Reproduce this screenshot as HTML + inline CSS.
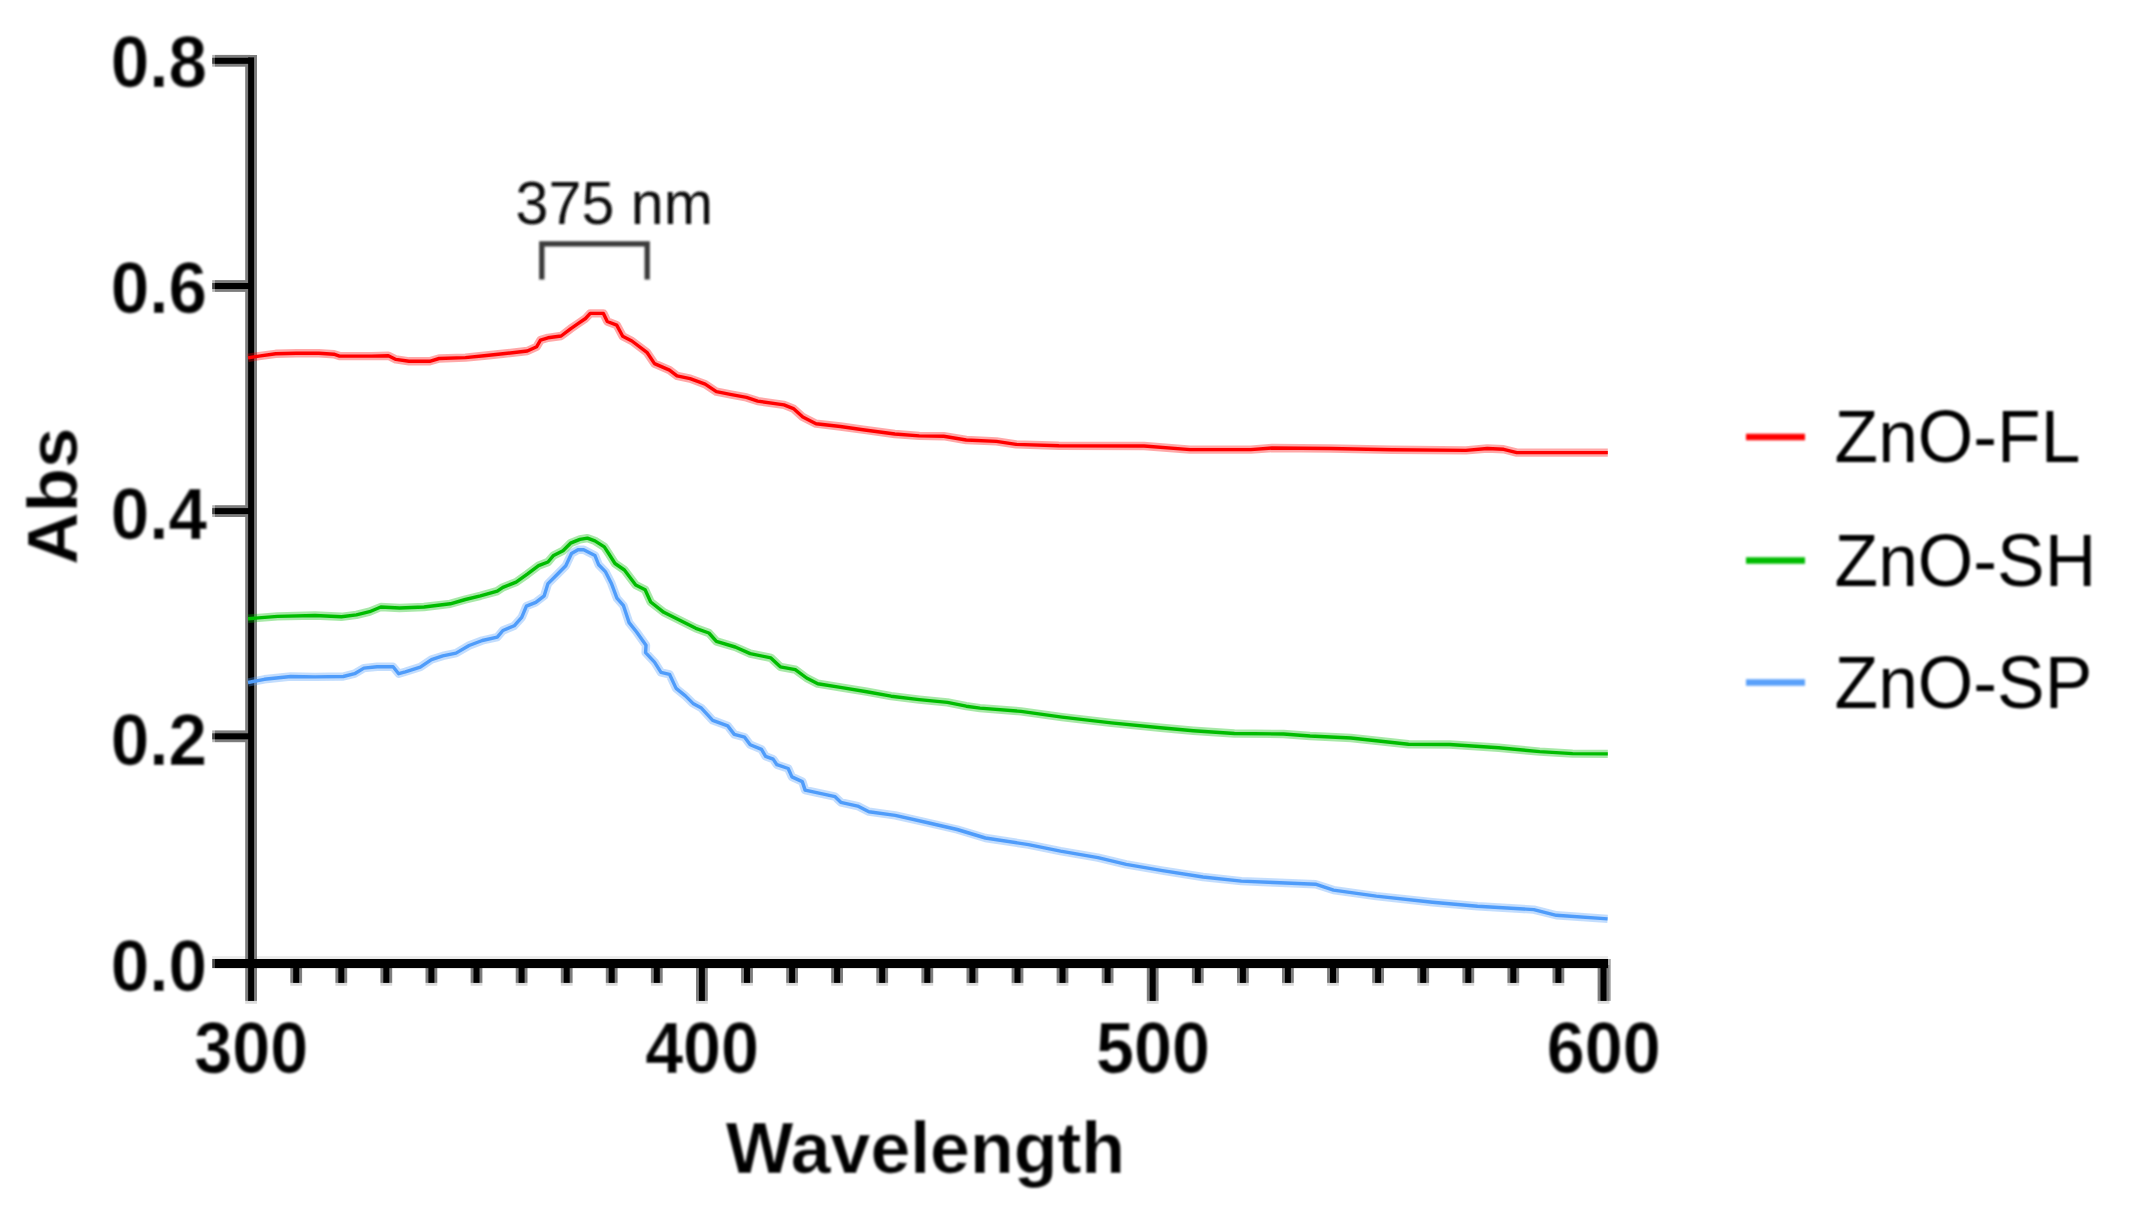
<!DOCTYPE html>
<html lang="en">
<head>
<meta charset="utf-8">
<title>ZnO absorbance</title>
<style>
html,body{margin:0;padding:0;background:#fff;}
body{width:2133px;height:1214px;overflow:hidden;}
svg{display:block;}
text{font-family:"Liberation Sans",Arial,Helvetica,sans-serif;fill:#000;}
.b{font-weight:bold;font-size:72.5px;}
.r{font-weight:normal;font-size:74px;}
.ann{font-weight:normal;font-size:62px;fill:#111;}
.ax{stroke:#000;stroke-width:10;fill:none;stroke-linecap:butt;}
.cv{fill:none;stroke-linejoin:round;stroke-linecap:butt;}
</style>
</head>
<body>
<svg width="2133" height="1214" viewBox="0 0 2133 1214">
<defs><filter id="soft" x="-2%" y="-2%" width="104%" height="104%"><feGaussianBlur stdDeviation="1.1"/></filter><filter id="soft2" x="-2%" y="-2%" width="104%" height="104%"><feGaussianBlur stdDeviation="0.55"/></filter><filter id="thin" x="-2%" y="-2%" width="104%" height="104%"><feMorphology in="SourceGraphic" operator="erode" radius="1" result="e"/><feComposite in="e" in2="SourceGraphic" operator="arithmetic" k1="0" k2="0.3" k3="0.7" k4="0" result="m"/><feGaussianBlur in="m" stdDeviation="0.9"/></filter></defs>
<rect x="0" y="0" width="2133" height="1214" fill="#ffffff"/>
<g filter="url(#soft2)">
<rect x="290.3" y="982.9" width="11.8" height="2.9" fill="#dcdcdc"/>
<rect x="335.4" y="982.9" width="11.8" height="2.9" fill="#dcdcdc"/>
<rect x="380.4" y="982.9" width="11.8" height="2.9" fill="#dcdcdc"/>
<rect x="425.5" y="982.9" width="11.8" height="2.9" fill="#dcdcdc"/>
<rect x="470.6" y="982.9" width="11.8" height="2.9" fill="#dcdcdc"/>
<rect x="515.7" y="982.9" width="11.8" height="2.9" fill="#dcdcdc"/>
<rect x="560.8" y="982.9" width="11.8" height="2.9" fill="#dcdcdc"/>
<rect x="605.8" y="982.9" width="11.8" height="2.9" fill="#dcdcdc"/>
<rect x="650.9" y="982.9" width="11.8" height="2.9" fill="#dcdcdc"/>
<rect x="696.0" y="1000.9" width="11.8" height="2.9" fill="#dcdcdc"/>
<rect x="741.1" y="982.9" width="11.8" height="2.9" fill="#dcdcdc"/>
<rect x="786.2" y="982.9" width="11.8" height="2.9" fill="#dcdcdc"/>
<rect x="831.2" y="982.9" width="11.8" height="2.9" fill="#dcdcdc"/>
<rect x="876.3" y="982.9" width="11.8" height="2.9" fill="#dcdcdc"/>
<rect x="921.4" y="982.9" width="11.8" height="2.9" fill="#dcdcdc"/>
<rect x="966.5" y="982.9" width="11.8" height="2.9" fill="#dcdcdc"/>
<rect x="1011.6" y="982.9" width="11.8" height="2.9" fill="#dcdcdc"/>
<rect x="1056.6" y="982.9" width="11.8" height="2.9" fill="#dcdcdc"/>
<rect x="1101.7" y="982.9" width="11.8" height="2.9" fill="#dcdcdc"/>
<rect x="1146.8" y="1000.9" width="11.8" height="2.9" fill="#dcdcdc"/>
<rect x="1191.9" y="982.9" width="11.8" height="2.9" fill="#dcdcdc"/>
<rect x="1237.0" y="982.9" width="11.8" height="2.9" fill="#dcdcdc"/>
<rect x="1282.0" y="982.9" width="11.8" height="2.9" fill="#dcdcdc"/>
<rect x="1327.1" y="982.9" width="11.8" height="2.9" fill="#dcdcdc"/>
<rect x="1372.2" y="982.9" width="11.8" height="2.9" fill="#dcdcdc"/>
<rect x="1417.3" y="982.9" width="11.8" height="2.9" fill="#dcdcdc"/>
<rect x="1462.4" y="982.9" width="11.8" height="2.9" fill="#dcdcdc"/>
<rect x="1507.4" y="982.9" width="11.8" height="2.9" fill="#dcdcdc"/>
<rect x="1552.5" y="982.9" width="11.8" height="2.9" fill="#dcdcdc"/>
<rect x="1597.6" y="1000.9" width="11.8" height="2.9" fill="#dcdcdc"/>
<rect x="245.2" y="1000.9" width="11.8" height="2.9" fill="#dcdcdc"/>
<rect x="212.2" y="956.1" width="1395.8" height="2.9" fill="#ebebeb"/>
<rect x="1608.0" y="959.0" width="2.8" height="41.9" fill="#aaaaaa"/>
<rect x="215.0" y="730.4" width="35.0" height="11.8" fill="#7d7d7d"/>
<rect x="212.2" y="730.4" width="2.8" height="11.8" fill="#b4b4b4"/>
<rect x="215.0" y="505.2" width="35.0" height="11.8" fill="#7d7d7d"/>
<rect x="212.2" y="505.2" width="2.8" height="11.8" fill="#b4b4b4"/>
<rect x="215.0" y="280.1" width="35.0" height="11.8" fill="#7d7d7d"/>
<rect x="212.2" y="280.1" width="2.8" height="11.8" fill="#b4b4b4"/>
<rect x="215.0" y="54.9" width="35.0" height="11.8" fill="#7d7d7d"/>
<rect x="212.2" y="54.9" width="2.8" height="11.8" fill="#b4b4b4"/>
<rect x="290.3" y="965.0" width="11.8" height="17.9" fill="#7d7d7d"/>
<rect x="335.4" y="965.0" width="11.8" height="17.9" fill="#7d7d7d"/>
<rect x="380.4" y="965.0" width="11.8" height="17.9" fill="#7d7d7d"/>
<rect x="425.5" y="965.0" width="11.8" height="17.9" fill="#7d7d7d"/>
<rect x="470.6" y="965.0" width="11.8" height="17.9" fill="#7d7d7d"/>
<rect x="515.7" y="965.0" width="11.8" height="17.9" fill="#7d7d7d"/>
<rect x="560.8" y="965.0" width="11.8" height="17.9" fill="#7d7d7d"/>
<rect x="605.8" y="965.0" width="11.8" height="17.9" fill="#7d7d7d"/>
<rect x="650.9" y="965.0" width="11.8" height="17.9" fill="#7d7d7d"/>
<rect x="696.0" y="965.0" width="11.8" height="35.9" fill="#7d7d7d"/>
<rect x="741.1" y="965.0" width="11.8" height="17.9" fill="#7d7d7d"/>
<rect x="786.2" y="965.0" width="11.8" height="17.9" fill="#7d7d7d"/>
<rect x="831.2" y="965.0" width="11.8" height="17.9" fill="#7d7d7d"/>
<rect x="876.3" y="965.0" width="11.8" height="17.9" fill="#7d7d7d"/>
<rect x="921.4" y="965.0" width="11.8" height="17.9" fill="#7d7d7d"/>
<rect x="966.5" y="965.0" width="11.8" height="17.9" fill="#7d7d7d"/>
<rect x="1011.6" y="965.0" width="11.8" height="17.9" fill="#7d7d7d"/>
<rect x="1056.6" y="965.0" width="11.8" height="17.9" fill="#7d7d7d"/>
<rect x="1101.7" y="965.0" width="11.8" height="17.9" fill="#7d7d7d"/>
<rect x="1146.8" y="965.0" width="11.8" height="35.9" fill="#7d7d7d"/>
<rect x="1191.9" y="965.0" width="11.8" height="17.9" fill="#7d7d7d"/>
<rect x="1237.0" y="965.0" width="11.8" height="17.9" fill="#7d7d7d"/>
<rect x="1282.0" y="965.0" width="11.8" height="17.9" fill="#7d7d7d"/>
<rect x="1327.1" y="965.0" width="11.8" height="17.9" fill="#7d7d7d"/>
<rect x="1372.2" y="965.0" width="11.8" height="17.9" fill="#7d7d7d"/>
<rect x="1417.3" y="965.0" width="11.8" height="17.9" fill="#7d7d7d"/>
<rect x="1462.4" y="965.0" width="11.8" height="17.9" fill="#7d7d7d"/>
<rect x="1507.4" y="965.0" width="11.8" height="17.9" fill="#7d7d7d"/>
<rect x="1552.5" y="965.0" width="11.8" height="17.9" fill="#7d7d7d"/>
<rect x="1597.6" y="965.0" width="11.8" height="35.9" fill="#7d7d7d"/>
<rect x="245.2" y="55.0" width="11.8" height="945.9" fill="#7d7d7d"/>
<rect x="215.0" y="733.3" width="35.0" height="6.0" fill="#000"/>
<rect x="212.2" y="733.3" width="2.8" height="6.0" fill="#484848"/>
<rect x="215.0" y="508.1" width="35.0" height="6.0" fill="#000"/>
<rect x="212.2" y="508.1" width="2.8" height="6.0" fill="#484848"/>
<rect x="215.0" y="283.0" width="35.0" height="6.0" fill="#000"/>
<rect x="212.2" y="283.0" width="2.8" height="6.0" fill="#484848"/>
<rect x="215.0" y="57.8" width="35.0" height="6.0" fill="#000"/>
<rect x="212.2" y="57.8" width="2.8" height="6.0" fill="#484848"/>
<rect x="293.2" y="965.0" width="6.0" height="17.9" fill="#000"/>
<rect x="338.3" y="965.0" width="6.0" height="17.9" fill="#000"/>
<rect x="383.3" y="965.0" width="6.0" height="17.9" fill="#000"/>
<rect x="428.4" y="965.0" width="6.0" height="17.9" fill="#000"/>
<rect x="473.5" y="965.0" width="6.0" height="17.9" fill="#000"/>
<rect x="518.6" y="965.0" width="6.0" height="17.9" fill="#000"/>
<rect x="563.7" y="965.0" width="6.0" height="17.9" fill="#000"/>
<rect x="608.7" y="965.0" width="6.0" height="17.9" fill="#000"/>
<rect x="653.8" y="965.0" width="6.0" height="17.9" fill="#000"/>
<rect x="698.9" y="965.0" width="6.0" height="35.9" fill="#000"/>
<rect x="744.0" y="965.0" width="6.0" height="17.9" fill="#000"/>
<rect x="789.1" y="965.0" width="6.0" height="17.9" fill="#000"/>
<rect x="834.1" y="965.0" width="6.0" height="17.9" fill="#000"/>
<rect x="879.2" y="965.0" width="6.0" height="17.9" fill="#000"/>
<rect x="924.3" y="965.0" width="6.0" height="17.9" fill="#000"/>
<rect x="969.4" y="965.0" width="6.0" height="17.9" fill="#000"/>
<rect x="1014.5" y="965.0" width="6.0" height="17.9" fill="#000"/>
<rect x="1059.5" y="965.0" width="6.0" height="17.9" fill="#000"/>
<rect x="1104.6" y="965.0" width="6.0" height="17.9" fill="#000"/>
<rect x="1149.7" y="965.0" width="6.0" height="35.9" fill="#000"/>
<rect x="1194.8" y="965.0" width="6.0" height="17.9" fill="#000"/>
<rect x="1239.9" y="965.0" width="6.0" height="17.9" fill="#000"/>
<rect x="1284.9" y="965.0" width="6.0" height="17.9" fill="#000"/>
<rect x="1330.0" y="965.0" width="6.0" height="17.9" fill="#000"/>
<rect x="1375.1" y="965.0" width="6.0" height="17.9" fill="#000"/>
<rect x="1420.2" y="965.0" width="6.0" height="17.9" fill="#000"/>
<rect x="1465.3" y="965.0" width="6.0" height="17.9" fill="#000"/>
<rect x="1510.3" y="965.0" width="6.0" height="17.9" fill="#000"/>
<rect x="1555.4" y="965.0" width="6.0" height="17.9" fill="#000"/>
<rect x="1600.5" y="965.0" width="6.0" height="35.9" fill="#000"/>
<rect x="248.1" y="57.4" width="6.0" height="943.5" fill="#000"/>
<rect x="215.0" y="959.0" width="1393.0" height="9.1" fill="#000"/>
<rect x="212.2" y="959.0" width="2.8" height="9.1" fill="#484848"/>
</g>
<g filter="url(#soft2)">
<polyline class="cv" stroke="#4f9cfa" stroke-width="8.4" stroke-opacity="0.34" points="248.0,682.5 264.4,679.3 290.7,676.5 315.1,676.9 343.3,676.5 354.6,673.7 363.9,668.1 377.1,666.8 393.1,666.8 398.7,673.7 405.3,671.8 420.3,667.1 431.5,659.6 442.8,655.9 456.0,653.1 469.1,645.5 482.3,640.5 497.3,637.1 502.9,630.5 514.2,625.8 521.7,617.4 526.4,606.1 535.8,602.3 544.2,595.8 548.0,583.6 557.4,574.2 565.8,565.7 571.5,553.5 578.0,549.8 583.7,549.8 594.9,555.4 598.7,564.8 605.6,571.9 611.3,583.2 616.9,598.2 623.5,605.7 629.1,622.6 636.6,632.0 646.0,645.2 645.6,652.7 654.5,662.1 661.0,672.4 669.5,674.3 676.1,688.4 685.4,695.9 693.0,703.4 701.4,708.1 712.7,720.3 727.7,725.9 734.3,734.4 744.6,737.2 750.2,744.7 761.5,749.4 765.6,756.3 773.1,759.1 776.9,764.7 788.2,768.5 791.9,776.9 802.3,781.6 805.1,790.1 835.1,796.7 840.8,802.3 857.7,806.1 868.9,811.7 895.2,815.4 929.0,823.0 957.2,829.5 985.4,838.0 1028.5,844.6 1060.5,851.1 1098.0,857.7 1126.2,864.3 1162.5,870.7 1203.0,877.0 1241.3,881.1 1315.5,884.2 1333.5,890.1 1376.3,896.1 1432.5,902.2 1477.5,906.3 1533.8,909.6 1556.3,915.3 1607.6,918.9"/>
<polyline class="cv" stroke="#4f9cfa" stroke-width="3.4" points="248.0,682.5 264.4,679.3 290.7,676.5 315.1,676.9 343.3,676.5 354.6,673.7 363.9,668.1 377.1,666.8 393.1,666.8 398.7,673.7 405.3,671.8 420.3,667.1 431.5,659.6 442.8,655.9 456.0,653.1 469.1,645.5 482.3,640.5 497.3,637.1 502.9,630.5 514.2,625.8 521.7,617.4 526.4,606.1 535.8,602.3 544.2,595.8 548.0,583.6 557.4,574.2 565.8,565.7 571.5,553.5 578.0,549.8 583.7,549.8 594.9,555.4 598.7,564.8 605.6,571.9 611.3,583.2 616.9,598.2 623.5,605.7 629.1,622.6 636.6,632.0 646.0,645.2 645.6,652.7 654.5,662.1 661.0,672.4 669.5,674.3 676.1,688.4 685.4,695.9 693.0,703.4 701.4,708.1 712.7,720.3 727.7,725.9 734.3,734.4 744.6,737.2 750.2,744.7 761.5,749.4 765.6,756.3 773.1,759.1 776.9,764.7 788.2,768.5 791.9,776.9 802.3,781.6 805.1,790.1 835.1,796.7 840.8,802.3 857.7,806.1 868.9,811.7 895.2,815.4 929.0,823.0 957.2,829.5 985.4,838.0 1028.5,844.6 1060.5,851.1 1098.0,857.7 1126.2,864.3 1162.5,870.7 1203.0,877.0 1241.3,881.1 1315.5,884.2 1333.5,890.1 1376.3,896.1 1432.5,902.2 1477.5,906.3 1533.8,909.6 1556.3,915.3 1607.6,918.9"/>
<polyline class="cv" stroke="#00bc00" stroke-width="8.4" stroke-opacity="0.34" points="248.0,618.7 277.6,616.4 315.1,615.5 341.4,616.8 356.4,614.9 369.6,611.7 380.8,607.0 399.6,608.0 424.0,607.0 450.3,603.8 465.4,599.5 480.4,595.8 497.3,591.1 502.9,587.3 516.1,582.1 527.3,574.2 538.6,565.7 548.0,562.0 553.6,555.4 563.0,550.7 570.5,543.2 579.9,539.4 587.4,538.1 594.9,540.9 604.3,546.9 609.0,554.0 615.0,563.5 624.4,570.0 635.7,585.1 645.1,589.8 650.7,602.0 663.8,612.3 680.8,620.8 695.8,628.3 708.9,633.0 716.4,641.4 735.2,647.0 750.2,653.6 770.9,657.9 780.3,666.8 795.3,669.6 806.6,678.0 817.8,683.7 840.4,687.4 866.7,691.7 891.1,696.2 919.2,699.6 947.4,702.4 966.2,706.2 980.0,708.1 1021.0,711.4 1062.0,717.1 1111.3,722.9 1160.5,727.8 1193.3,730.7 1234.4,733.5 1283.6,734.0 1310.0,736.0 1351.0,738.0 1408.5,744.2 1449.5,744.5 1498.7,747.8 1539.7,751.6 1572.6,753.6 1607.8,753.9"/>
<polyline class="cv" stroke="#00bc00" stroke-width="3.4" points="248.0,618.7 277.6,616.4 315.1,615.5 341.4,616.8 356.4,614.9 369.6,611.7 380.8,607.0 399.6,608.0 424.0,607.0 450.3,603.8 465.4,599.5 480.4,595.8 497.3,591.1 502.9,587.3 516.1,582.1 527.3,574.2 538.6,565.7 548.0,562.0 553.6,555.4 563.0,550.7 570.5,543.2 579.9,539.4 587.4,538.1 594.9,540.9 604.3,546.9 609.0,554.0 615.0,563.5 624.4,570.0 635.7,585.1 645.1,589.8 650.7,602.0 663.8,612.3 680.8,620.8 695.8,628.3 708.9,633.0 716.4,641.4 735.2,647.0 750.2,653.6 770.9,657.9 780.3,666.8 795.3,669.6 806.6,678.0 817.8,683.7 840.4,687.4 866.7,691.7 891.1,696.2 919.2,699.6 947.4,702.4 966.2,706.2 980.0,708.1 1021.0,711.4 1062.0,717.1 1111.3,722.9 1160.5,727.8 1193.3,730.7 1234.4,733.5 1283.6,734.0 1310.0,736.0 1351.0,738.0 1408.5,744.2 1449.5,744.5 1498.7,747.8 1539.7,751.6 1572.6,753.6 1607.8,753.9"/>
<polyline class="cv" stroke="#ff0000" stroke-width="8.4" stroke-opacity="0.34" points="248.0,357.9 258.8,356.1 275.7,353.8 296.3,353.2 318.9,353.2 333.9,354.2 339.5,356.1 371.5,356.1 388.4,355.7 395.9,359.4 409.0,361.3 429.7,361.3 439.1,358.5 465.4,357.6 484.1,355.7 502.9,353.8 527.3,351.0 536.7,346.7 540.5,340.1 548.0,337.8 561.1,336.0 570.5,328.8 578.0,323.6 585.5,318.5 590.2,313.4 603.4,313.4 607.3,321.5 616.7,325.1 622.7,336.3 631.9,341.0 646.9,352.3 654.5,363.6 669.5,370.1 677.0,375.8 690.1,378.6 705.2,384.2 716.4,391.7 731.5,394.6 746.5,397.4 757.7,401.1 784.0,404.9 793.4,408.6 802.8,417.1 816.0,423.7 840.4,426.5 862.9,429.7 894.8,434.0 919.2,435.9 943.7,436.2 966.2,440.0 996.4,441.4 1016.1,444.4 1058.8,445.7 1144.1,446.0 1190.0,449.6 1250.8,449.6 1272.1,448.0 1330.0,448.5 1392.0,449.8 1465.9,450.4 1487.2,448.5 1503.6,449.3 1516.8,452.6 1607.8,452.6"/>
<polyline class="cv" stroke="#ff0000" stroke-width="3.4" points="248.0,357.9 258.8,356.1 275.7,353.8 296.3,353.2 318.9,353.2 333.9,354.2 339.5,356.1 371.5,356.1 388.4,355.7 395.9,359.4 409.0,361.3 429.7,361.3 439.1,358.5 465.4,357.6 484.1,355.7 502.9,353.8 527.3,351.0 536.7,346.7 540.5,340.1 548.0,337.8 561.1,336.0 570.5,328.8 578.0,323.6 585.5,318.5 590.2,313.4 603.4,313.4 607.3,321.5 616.7,325.1 622.7,336.3 631.9,341.0 646.9,352.3 654.5,363.6 669.5,370.1 677.0,375.8 690.1,378.6 705.2,384.2 716.4,391.7 731.5,394.6 746.5,397.4 757.7,401.1 784.0,404.9 793.4,408.6 802.8,417.1 816.0,423.7 840.4,426.5 862.9,429.7 894.8,434.0 919.2,435.9 943.7,436.2 966.2,440.0 996.4,441.4 1016.1,444.4 1058.8,445.7 1144.1,446.0 1190.0,449.6 1250.8,449.6 1272.1,448.0 1330.0,448.5 1392.0,449.8 1465.9,450.4 1487.2,448.5 1503.6,449.3 1516.8,452.6 1607.8,452.6"/>
</g>
<g filter="url(#thin)">
<text class="b" transform="translate(207.0 990.5) scale(0.955 1)" text-anchor="end">0.0</text>
<text class="b" transform="translate(207.0 764.6) scale(0.955 1)" text-anchor="end">0.2</text>
<text class="b" transform="translate(207.0 538.7) scale(0.955 1)" text-anchor="end">0.4</text>
<text class="b" transform="translate(207.0 312.9) scale(0.955 1)" text-anchor="end">0.6</text>
<text class="b" transform="translate(207.0 87.0) scale(0.955 1)" text-anchor="end">0.8</text>
<text class="b" transform="translate(251.3 1073.0) scale(0.942 1)" text-anchor="middle">300</text>
<text class="b" transform="translate(702.1 1073.0) scale(0.942 1)" text-anchor="middle">400</text>
<text class="b" transform="translate(1152.9 1073.0) scale(0.942 1)" text-anchor="middle">500</text>
<text class="b" transform="translate(1603.7 1073.0) scale(0.942 1)" text-anchor="middle">600</text>
<text class="b" transform="translate(925.4 1172.8) scale(0.988 1)" text-anchor="middle">Wavelength</text>
<text class="b" style="font-size:70.5px" transform="translate(77.4 496.2) rotate(-90) scale(1.03 1)" text-anchor="middle">Abs</text>
</g>
<g filter="url(#soft)">
<text class="ann" transform="translate(614.3 224.4) scale(0.955 1)" text-anchor="middle">375 nm</text>
<path d="M541.8 279.6 V243.9 H647.2 V279.6" fill="none" stroke="#3a3a3a" stroke-width="5.3"/>
<path d="M1746 437 H1805" stroke="#ff0000" stroke-width="6.5" fill="none"/>
<text class="r" transform="translate(1834.6 462.2) scale(0.964 1)" text-anchor="start">ZnO-FL</text>
<path d="M1746 560.4 H1805" stroke="#00bc00" stroke-width="6.5" fill="none"/>
<text class="r" transform="translate(1834.6 585.6) scale(0.964 1)" text-anchor="start">ZnO-SH</text>
<path d="M1746 682.6 H1805" stroke="#5aa0fa" stroke-width="6.5" fill="none"/>
<text class="r" transform="translate(1834.6 707.8) scale(0.964 1)" text-anchor="start">ZnO-SP</text>
</g>
</svg>
</body>
</html>
